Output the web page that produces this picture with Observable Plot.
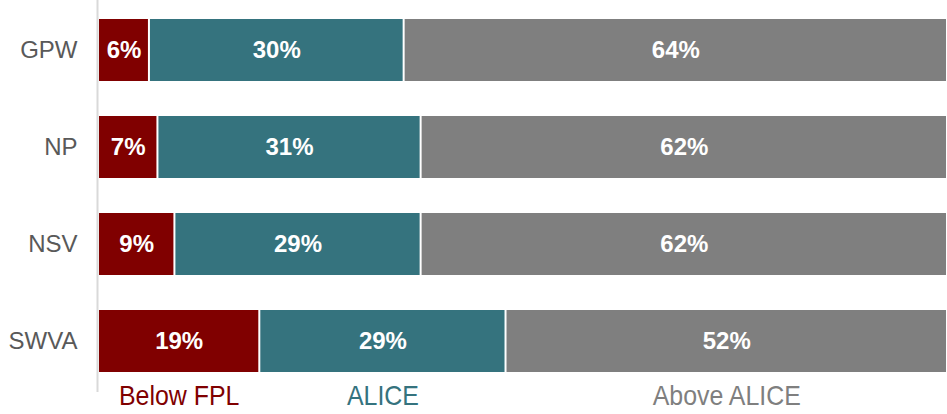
<!DOCTYPE html>
<html>
<head>
<meta charset="utf-8">
<script src="https://cdn.jsdelivr.net/npm/d3@7"></script>
<script src="https://cdn.jsdelivr.net/npm/@observablehq/plot@0.6"></script>
<style>
  html, body { margin: 0; padding: 0; background: #fff; }
  #chart svg { display: block; }
</style>
</head>
<body>
<div id="chart"></div>
<script>
const regions = ["GPW", "NP", "NSV", "SWVA"];
const categories = ["Below FPL", "ALICE", "Above ALICE"];
const belowFPL = [6, 7, 9, 19];
const alice = [30, 31, 29, 29];
const aboveAlice = [64, 62, 62, 52];
const colors = ["#800000", "#35737e", "#7f7f7f"];

const series = [belowFPL, alice, aboveAlice];
const data = [];
regions.forEach((r, i) => {
  categories.forEach((c, j) => {
    data.push({region: r, cat: c, value: series[j][i]});
  });
});
const legendRows = data.filter(d => d.region === regions[regions.length - 1]);

const chart = Plot.plot({
  width: 947,
  height: 414,
  marginLeft: 98,
  marginRight: 0,
  marginTop: 0,
  marginBottom: 22,
  x: {domain: [0, 100], axis: null},
  y: {domain: regions, paddingInner: 0.357, paddingOuter: 0.18, label: null},
  color: {domain: categories, range: colors},
  style: {fontFamily: "'Liberation Sans', Arial, sans-serif", fontSize: "24px", color: "#595959", overflow: "visible"},
  marks: [
    Plot.barX(data, Plot.stackX({x: "value", y: "region", z: "cat", fill: "cat", insetLeft: 1, insetRight: 1})),
    Plot.textX(data, Plot.stackX({x: "value", y: "region", z: "cat", text: d => d.value + "%", fill: "white", fontWeight: "bold", fontSize: 24})),
    Plot.textX(legendRows, Plot.stackX({x: "value", y: "region", z: "cat", text: "cat", fill: "cat", fontSize: 28, dy: 54.5})),
    Plot.ruleX([0], {stroke: "#d9d9d9", strokeWidth: 2, dx: -1}),
    Plot.axisY({tickSize: 0, tickPadding: 21, fontSize: 24, fill: "#595959", label: null})
  ]
});
document.getElementById("chart").appendChild(chart);
// condense the legend labels (the reference uses a narrow typeface)
chart.querySelectorAll("text").forEach(t => {
  if (categories.includes(t.textContent)) {
    const len = t.getComputedTextLength();
    t.setAttribute("textLength", (len * 0.89).toFixed(1));
    t.setAttribute("lengthAdjust", "spacingAndGlyphs");
  }
});
</script>
</body>
</html>
